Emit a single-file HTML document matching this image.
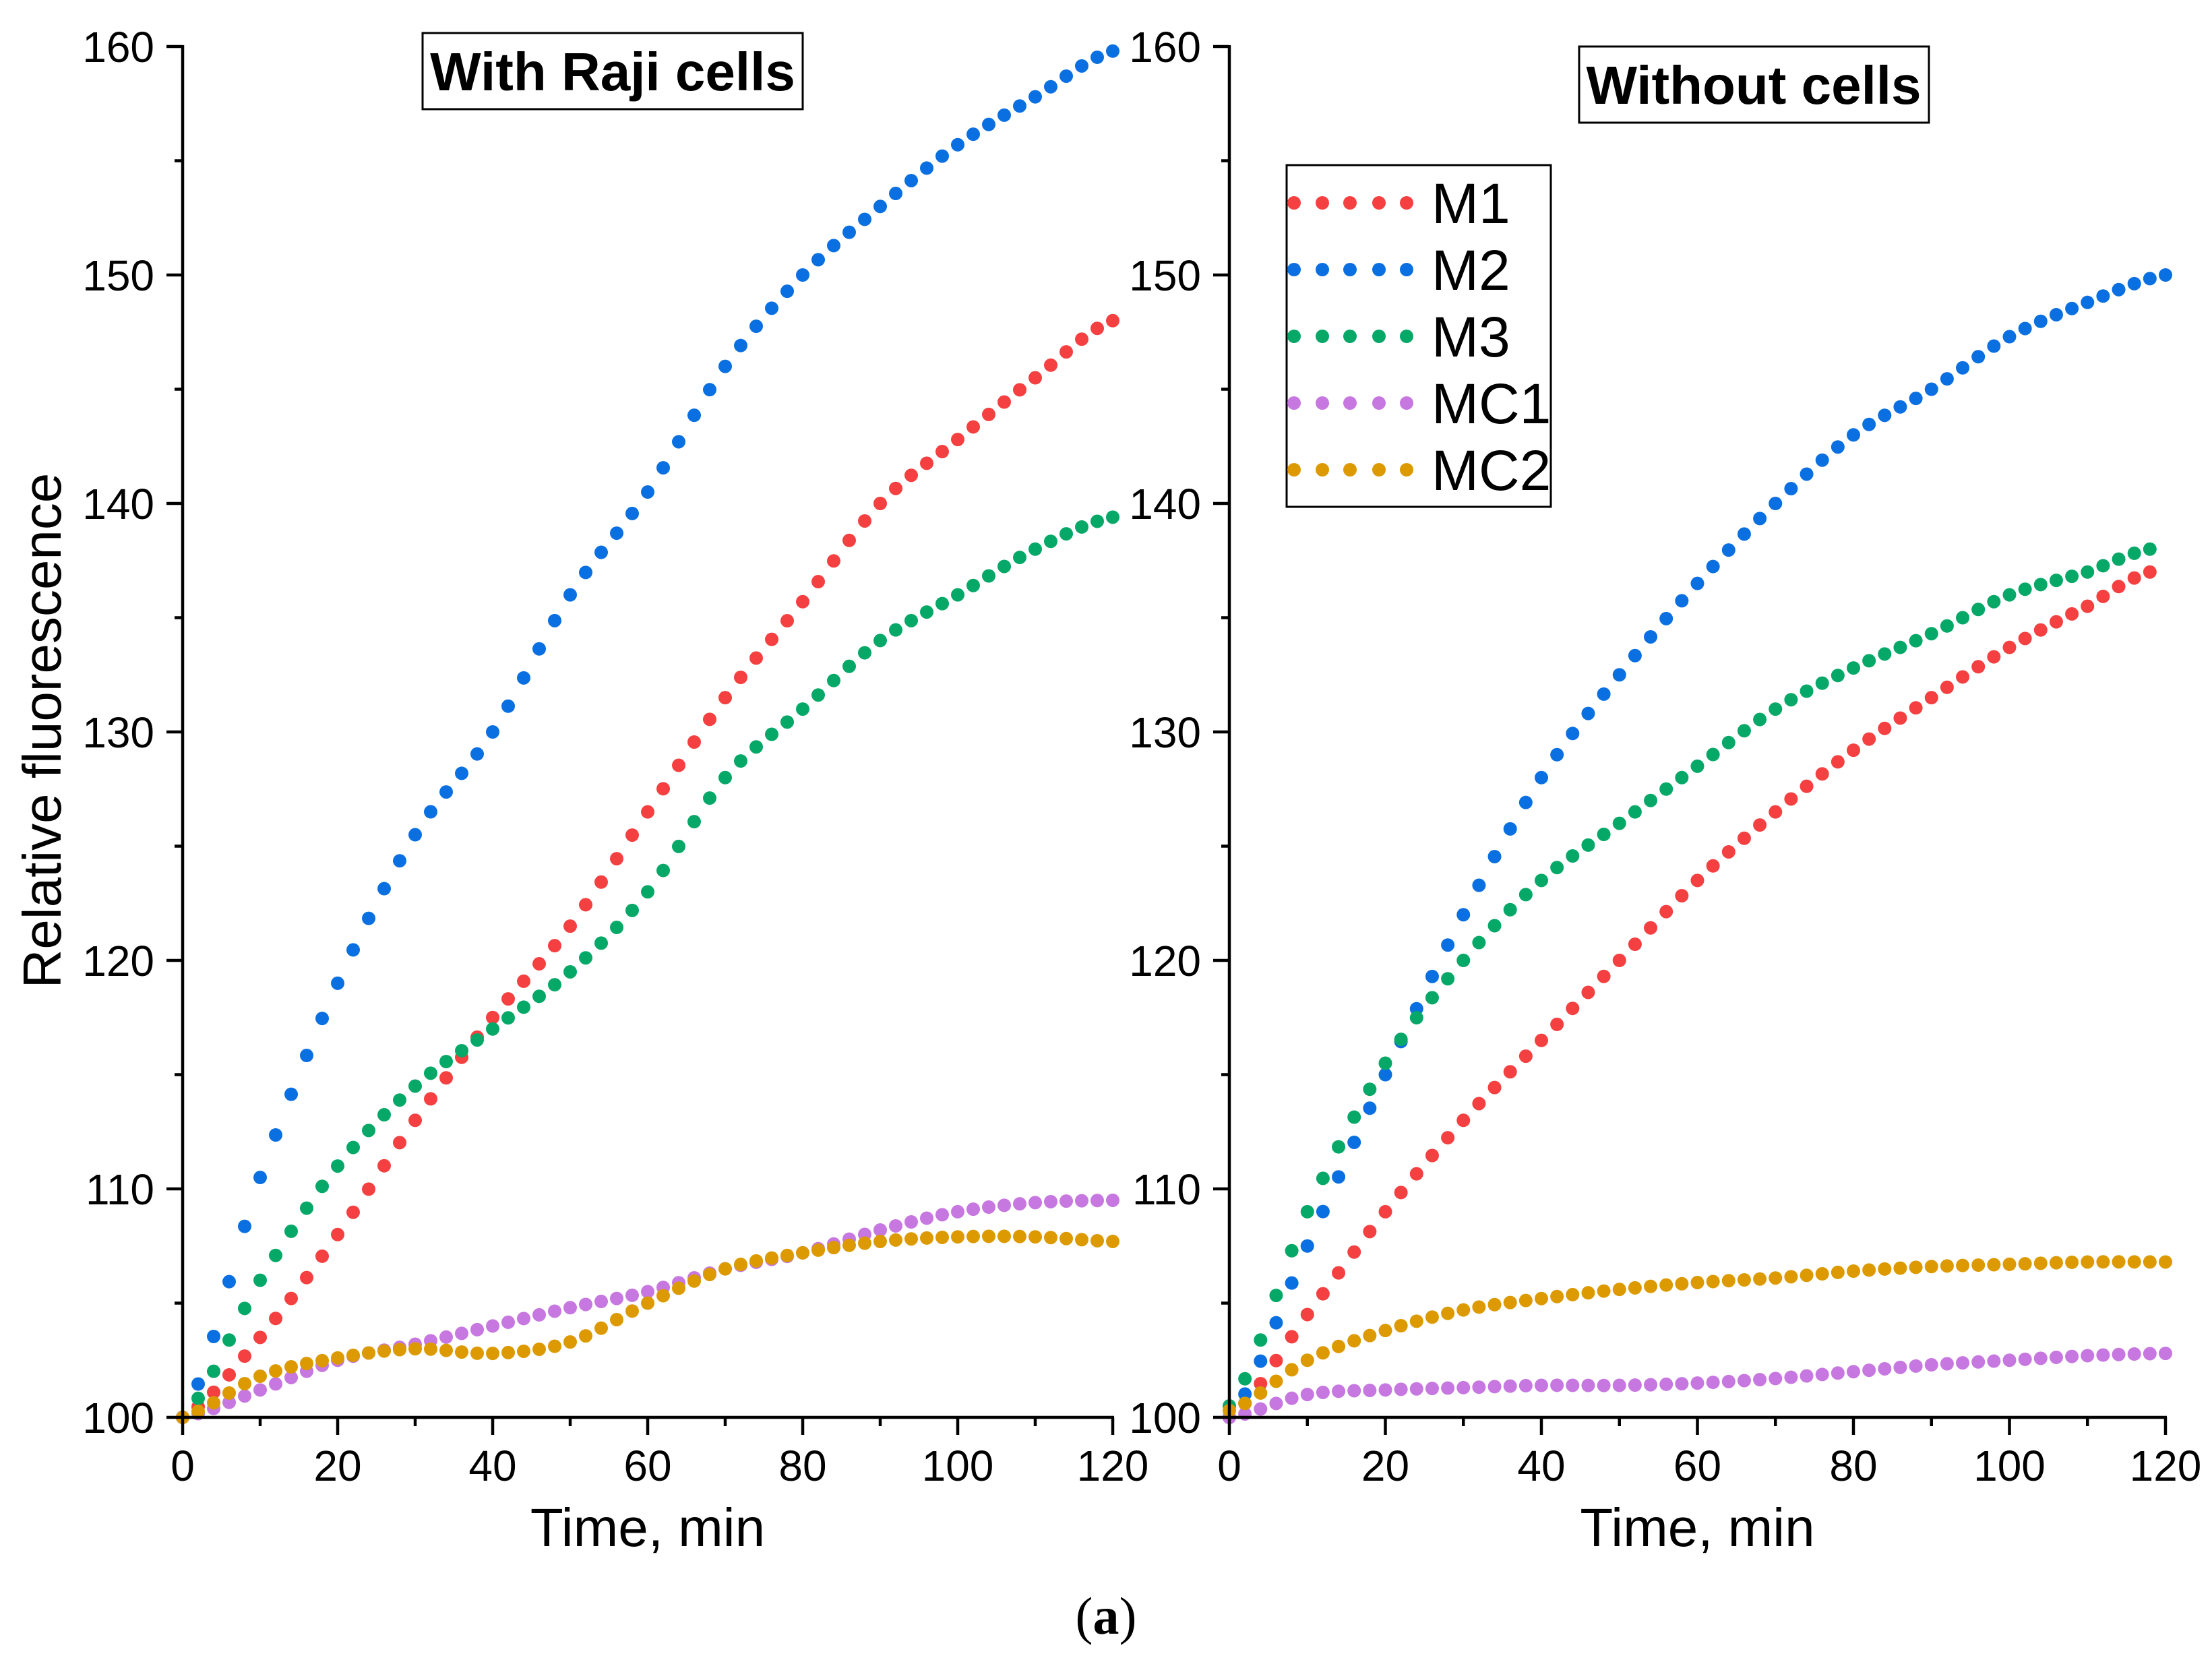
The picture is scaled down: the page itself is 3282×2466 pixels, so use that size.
<!DOCTYPE html>
<html><head><meta charset="utf-8"><style>
html,body{margin:0;padding:0;background:#fff;}
svg{display:block;font-family:"Liberation Sans",Arial,sans-serif;}
</style></head><body>
<svg id="chart" width="3282" height="2466" viewBox="0 0 3282 2466" xmlns="http://www.w3.org/2000/svg">
<g id="g"></g>
</svg>
<script>
// Key readings (time in min, relative fluorescence)
const leftTimes  = [0,10,20,30,40,50,60,70,80,90,100,110,120];
const leftM1     = [100,103.5,108,113,117.5,121.5,126.5,131.5,135.7,140,142.8,145.5,148];
const leftM2     = [100,110.5,119,125.5,130,136,140.5,146,150,153,155.7,157.8,159.8];
const leftM3     = [100,106,111,114.5,117,119.5,123,128,131,134,136,138,139.4];
const leftMC1    = [100,101.2,102.5,103.2,104,104.8,105.5,106.5,107.2,108.2,109,109.4,109.5];
const leftMC2    = [100,101.8,102.6,103,102.8,103.3,105,106.5,107.2,107.7,107.9,107.9,107.7];
const rightTimes = [0,10,20,30,40,50,60,70,80,90,100,110,120];
const rightTimesShort = [0,10,20,30,40,50,60,70,80,90,100,110,118];
const rightM1    = [100,104.5,109,113,116.5,120,123.5,126.5,129.2,131.5,133.7,135.5,137];
const rightM2    = [100,107.5,115,122,128,132.5,136.5,140,143,145,147.3,148.8,150];
const rightM3    = [100.5,109,115.5,120,123.5,126,128.5,131,132.8,134.3,136,137,138];
const rightMC1   = [100,101,101.2,101.3,101.4,101.4,101.5,101.7,102,102.3,102.5,102.7,102.8];
const rightMC2   = [100.3,102.5,103.8,104.7,105.2,105.6,105.9,106.1,106.4,106.6,106.7,106.8,106.8];
const xTicks = [0,20,40,60,80,100,120];
const yTicks = [100,110,120,130,140,150,160];
const seriesNames = ["M1","M2","M3","MC1","MC2"];
const colors = ["#f44040","#0a6fe0","#06a868","#c677e0","#dc9a00"];

const NS="http://www.w3.org/2000/svg";
const g=document.getElementById('g');
function el(tag,attrs,parent){const e=document.createElementNS(NS,tag);for(const k in attrs)e.setAttribute(k,attrs[k]);(parent||g).appendChild(e);return e;}
const Y0=2103, Y1=69;
function yScale(v){return Y0-(v-100)/60*(Y0-Y1);}
const panels=[
 {x0:271,x1:1651,times:[leftTimes,leftTimes,leftTimes,leftTimes,leftTimes],data:[leftM1,leftM2,leftM3,leftMC1,leftMC2],name:'left'},
 {x0:1824,x1:3213,times:[rightTimesShort,rightTimes,rightTimesShort,rightTimes,rightTimes],data:[rightM1,rightM2,rightM3,rightMC1,rightMC2],name:'right'}
];
function sampleCurve(ts,vs,step){
 const out=[];
 for(let t=0;t<=ts[ts.length-1]+1e-6;t+=step){
  let i=0;while(i<ts.length-2&&t>ts[i+1])i++;
  const p0=vs[Math.max(i-1,0)],p1=vs[i],p2=vs[i+1],p3=vs[Math.min(i+2,vs.length-1)];
  const u=(t-ts[i])/(ts[i+1]-ts[i]);
  const v=0.5*((2*p1)+(-p0+p2)*u+(2*p0-5*p1+4*p2-p3)*u*u+(-p0+3*p1-3*p2+p3)*u*u*u);
  out.push([t,v]);
 }
 return out;
}
panels.forEach((p,pi)=>{
 const xs=t=>p.x0+t/120*(p.x1-p.x0);
 const pg=el('g',{});
 
 
 p.data.forEach((vals,si)=>{
  const sg=el('g',{fill:colors[si]},pg);
  
  
  sampleCurve(p.times[si],vals,2).forEach(([t,v])=>{
   const c=el('circle',{cx:xs(t),cy:yScale(v),r:10},sg);
   
   
  });
 });
 const ax=el('g',{stroke:'#000','stroke-width':4.5},pg);
 
 
 el('line',{x1:p.x0,y1:Y1-2,x2:p.x0,y2:Y0+2},ax);
 el('line',{x1:p.x0-2,y1:Y0,x2:p.x1+2,y2:Y0},ax);
 yTicks.forEach((v,i)=>{
  const y=yScale(v);
  el('line',{x1:p.x0-24,y1:y,x2:p.x0,y2:y},ax);
  if(i<yTicks.length-1){const ym=yScale(v+5);el('line',{x1:p.x0-12,y1:ym,x2:p.x0,y2:ym},ax);}
  const t=el('text',{x:p.x0-42,y:y+23,'font-size':64,'text-anchor':'end',fill:'#000'},pg);
  t.textContent=v;
  
  
 });
 xTicks.forEach((v,i)=>{
  const x=xs(v);
  el('line',{x1:x,y1:Y0,x2:x,y2:Y0+26},ax);
  if(i<xTicks.length-1){const xm=xs(v+10);el('line',{x1:xm,y1:Y0,x2:xm,y2:Y0+13},ax);}
  const t=el('text',{x:x,y:2197,'font-size':64,'text-anchor':'middle',fill:'#000'},pg);
  t.textContent=v;
  
  
 });
 const xt=el('text',{x:(p.x0+p.x1)/2,y:2294,'font-size':80,'text-anchor':'middle',fill:'#000'},pg);
 xt.textContent='Time, min';
 
 
});
const t1b=el('rect',{x:627,y:49,width:564,height:113,fill:'#fff',stroke:'#000','stroke-width':3});


const t1=el('text',{x:909,y:134,'font-size':80,'font-weight':'bold','text-anchor':'middle',fill:'#000'});
t1.textContent='With Raji cells';


const t2b=el('rect',{x:2343,y:69,width:519,height:113,fill:'#fff',stroke:'#000','stroke-width':3});


const t2=el('text',{x:2602,y:154,'font-size':80,'font-weight':'bold','text-anchor':'middle',fill:'#000'});
t2.textContent='Without cells';


const yt=el('text',{x:0,y:0,'font-size':80,'text-anchor':'middle',fill:'#000',transform:'translate(90,1084) rotate(-90)'});
yt.textContent='Relative fluorescence';


const lg=el('g',{});


el('rect',{x:1909,y:245,width:392,height:507,fill:'#fff',stroke:'#000','stroke-width':3},lg);
seriesNames.forEach((n,i)=>{
 const y=301+i*99;
 const e=el('g',{},lg);
 
 
 [1920,1962,2003,2046,2087].forEach(cx=>el('circle',{cx:cx,cy:y,r:10,fill:colors[i]},e));
 const t=el('text',{x:2124,y:y+30,'font-size':84,fill:'#000'},e);
 t.textContent=n;
});
const cap=el('text',{x:1641,y:2424,'font-size':78,'text-anchor':'middle',fill:'#000','font-family':'"Liberation Serif",serif'});
cap.innerHTML='(<tspan font-weight="bold">a</tspan>)';


</script>
</body></html>
